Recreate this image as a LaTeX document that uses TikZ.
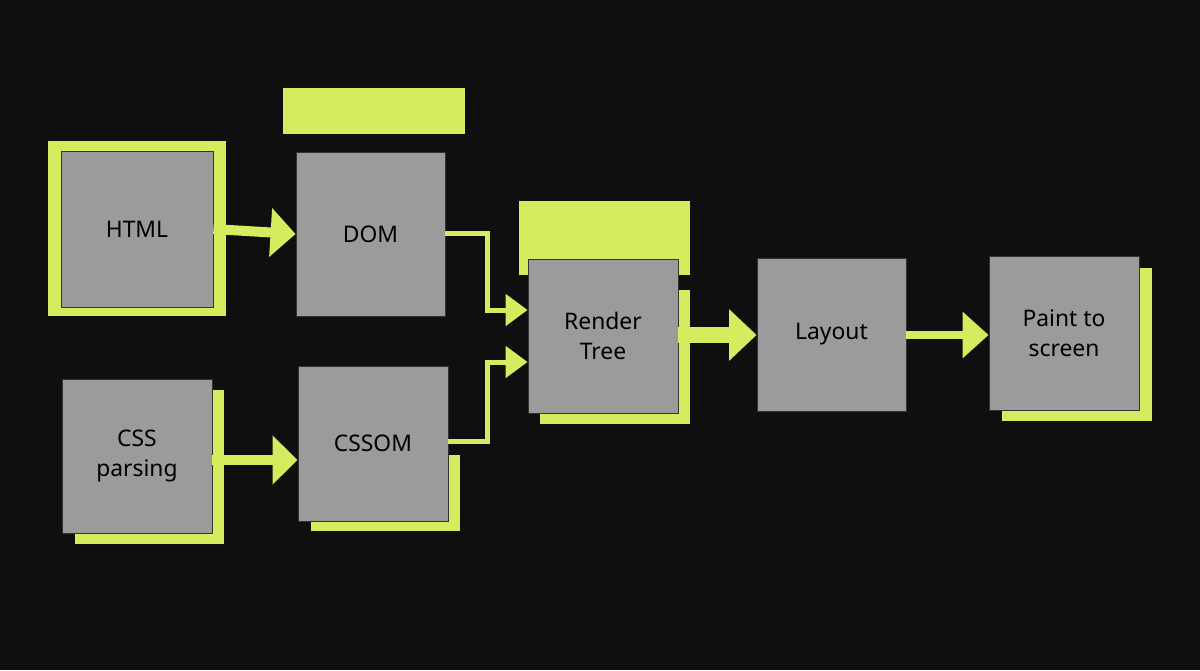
\documentclass[tikz,border=0pt]{standalone}
\usepackage{fontspec}
\setmainfont{Noto Sans}
\usetikzlibrary{arrows.meta}
\definecolor{bg}{HTML}{0F0F0F}
\definecolor{lime}{HTML}{D4EC5E}
\definecolor{box}{HTML}{9B9B9B}
\begin{document}
\begin{tikzpicture}[x=0.02cm,y=-0.02cm,
 gbox/.style={draw=black!80,line width=0.5pt,fill=box,inner sep=0pt,align=center,
   font=\fontsize{13}{17}\selectfont},
 lm/.style={fill=lime},
 arr/.style={draw=lime,line width=#1},
]
\fill[bg] (0,0) rectangle (1200,670);
\useasboundingbox (0,0) rectangle (1200,670);
% decorations
\fill[lime] (48,141) rectangle (226,316);
\fill[lime] (283,88) rectangle (465,134);
\fill[lime] (75,390) rectangle (224,544);
\fill[lime] (311,455) rectangle (460,531);
\fill[lime] (519,201) rectangle (690,275);
\fill[lime] (540,290) rectangle (690,424);
\fill[lime] (1002,268) rectangle (1152,421);
% boxes
\node[gbox,minimum width=3.04cm,minimum height=3.12cm] (html) at (137,229) {HTML};
\node[gbox,minimum width=2.98cm,minimum height=3.28cm] (dom) at (370.5,234) {DOM};
\node[gbox,minimum width=3cm,minimum height=3.08cm] (css) at (137,456) {CSS\\parsing};
\node[gbox,minimum width=3cm,minimum height=3.1cm] (cssom) at (373,443.5) {CSSOM};
\node[gbox,minimum width=3cm,minimum height=3.08cm] (rt) at (603,336) {Render\\Tree};
\node[gbox,minimum width=2.98cm,minimum height=3.06cm] (lay) at (831.5,334.5) {Layout};
\node[gbox,minimum width=3cm,minimum height=3.08cm] (paint) at (1064,333) {Paint to\\screen};
% arrows
\draw[arr=0.2cm,-{Triangle[length=0.5cm,width=0.95cm]}] (html.east) -- (dom.west);
\draw[arr=0.2cm,-{Triangle[length=0.5cm,width=0.95cm]}] (css.east|-0,460) -- (cssom.west|-0,460);
\draw[arr=0.1cm,-{Triangle[length=0.44cm,width=0.62cm]}] (dom.east|-0,233) -- (487,233) -- (487,310) -- (rt.west|-0,310);
\draw[arr=0.1cm,-{Triangle[length=0.44cm,width=0.62cm]}] (cssom.east|-0,441) -- (487,441) -- (487,362) -- (rt.west|-0,362);
\draw[arr=0.32cm,-{Triangle[length=0.55cm,width=1cm]}] (rt.east|-0,335) -- (lay.west|-0,335);
\draw[arr=0.16cm,-{Triangle[length=0.52cm,width=0.9cm]}] (lay.east|-0,335) -- (paint.west|-0,335);
\end{tikzpicture}
\end{document}
